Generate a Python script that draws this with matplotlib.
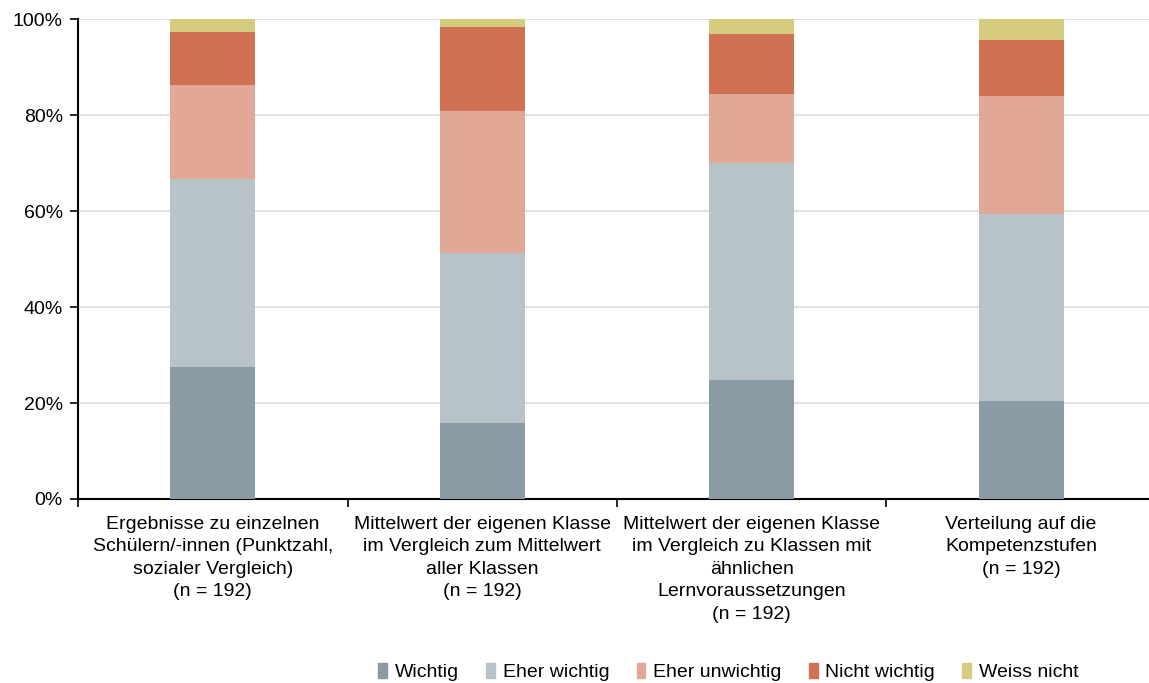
import numpy as np
import matplotlib.pyplot as plt
from matplotlib.patches import Patch

plt.rcParams['font.family'] = ['Liberation Sans', 'DejaVu Sans']

categories = [
    'Ergebnisse zu einzelnen\nSchülern/-innen (Punktzahl,\nsozialer Vergleich)\n(n = 192)',
    'Mittelwert der eigenen Klasse\nim Vergleich zum Mittelwert\naller Klassen\n(n = 192)',
    'Mittelwert der eigenen Klasse\nim Vergleich zu Klassen mit\nähnlichen\nLernvoraussetzungen\n(n = 192)',
    'Verteilung auf die\nKompetenzstufen\n(n = 192)',
]
series_names = ['Wichtig', 'Eher wichtig', 'Eher unwichtig', 'Nicht wichtig', 'Weiss nicht']
wichtig = [27.5, 15.8, 24.8, 20.4]
eher_wichtig = [39.2, 35.4, 45.2, 39.0]
eher_unwichtig = [19.6, 29.6, 14.4, 24.6]
nicht_wichtig = [11.0, 17.5, 12.5, 11.6]
weiss_nicht = [2.7, 1.7, 3.1, 4.4]
colors = ['#8a9ba5', '#b7c3c8', '#e2a896', '#d07153', '#d6cc80']

fig = plt.figure(figsize=(11.49, 6.83), dpi=100)
ax = fig.add_axes([0.068, 0.2694, 0.938, 0.7026])

x = np.arange(len(categories))
bottom = np.zeros(len(categories))
for vals, name, c in zip([wichtig, eher_wichtig, eher_unwichtig, nicht_wichtig, weiss_nicht],
                         series_names, colors):
    ax.bar(x, vals, bottom=bottom, width=0.315, color=c, label=name, zorder=3)
    bottom += np.array(vals)

ax.set_xlim(-0.5, len(categories) - 0.5)
ax.set_ylim(0, 100)
ax.set_yticks(np.arange(0, 101, 20))
ax.set_yticklabels([f'{v}%' for v in range(0, 101, 20)], fontsize=14)
ax.yaxis.grid(True, color='#dedede', linewidth=1.3, zorder=0)

ax.set_xticks(np.arange(-0.5, len(categories), 1.0))
ax.set_xticklabels([])
ax.set_xticks(x, minor=True)
ax.set_xticklabels(categories, minor=True, fontsize=14, linespacing=1.42)
ax.tick_params(axis='x', which='minor', length=0, pad=12)
ax.tick_params(axis='x', which='major', length=6, width=1.2, direction='out')
ax.tick_params(axis='y', length=6, width=1.2, direction='out', pad=5)

for s in ['top', 'right']:
    ax.spines[s].set_visible(False)
ax.spines['left'].set_linewidth(1.5)
ax.spines['bottom'].set_linewidth(1.5)

handles = [Patch(color=c) for c in colors]
fig.legend(handles, series_names, loc='center', bbox_to_anchor=(0.634, 0.016),
           ncol=5, frameon=False, fontsize=14, handlelength=0.45, handleheight=0.85,
           handletextpad=0.4, columnspacing=1.4)

fig.savefig('out.png', dpi=100)
